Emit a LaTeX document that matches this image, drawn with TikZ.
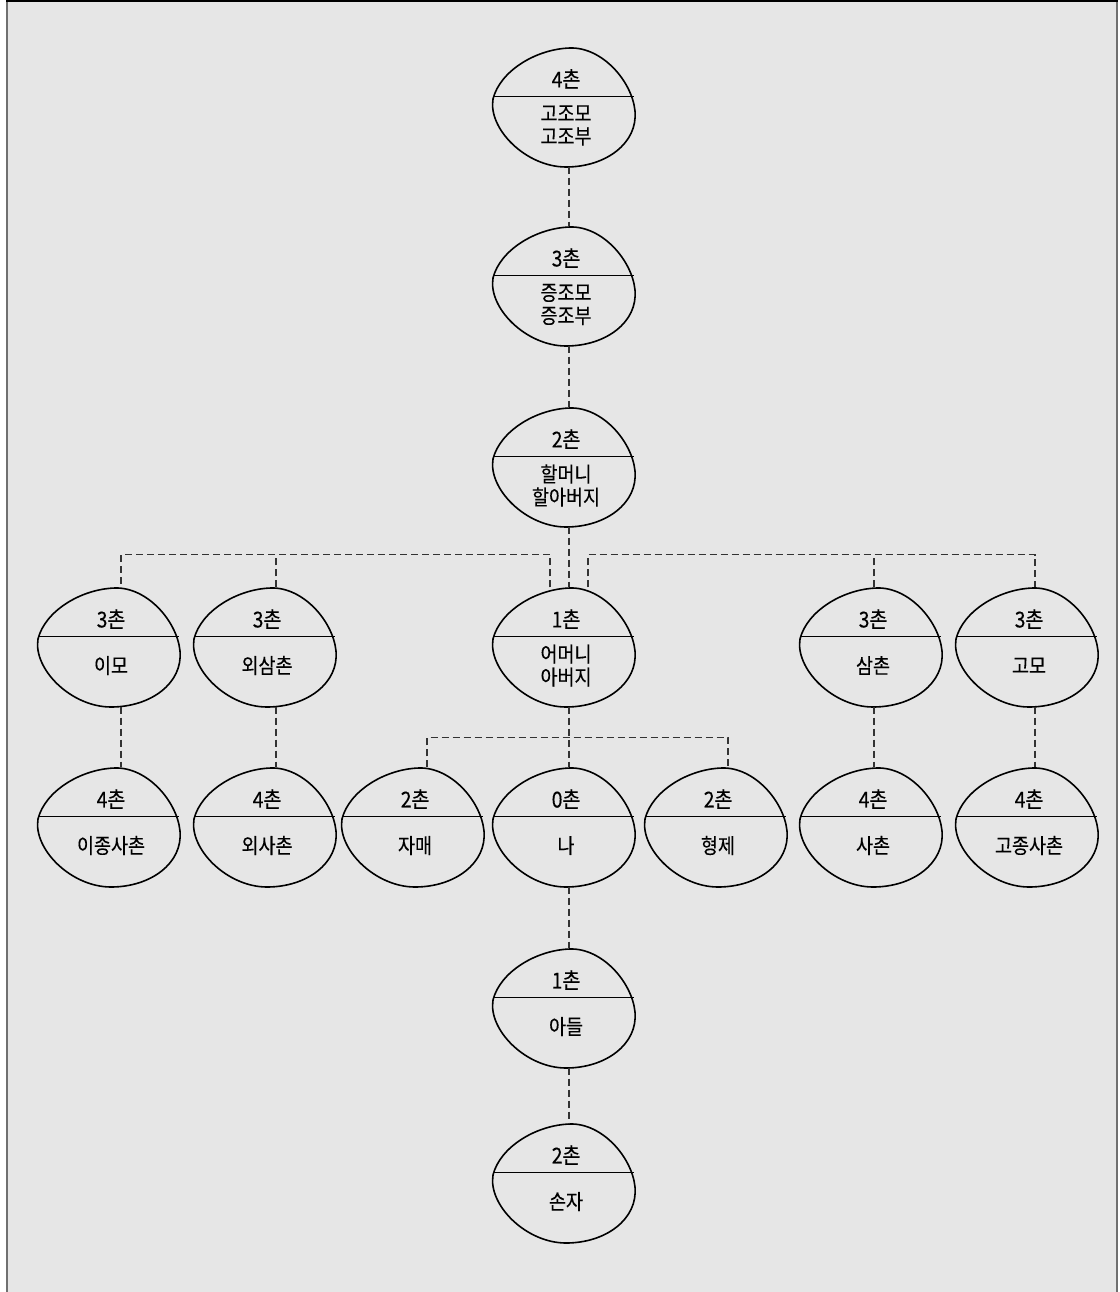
\documentclass[tikz,border=0pt]{standalone}
\usepackage{fontspec}
\newfontfamily\krfont[FakeStretch=0.88, FakeBold=0.2]{Noto Sans CJK KR}
\usetikzlibrary{positioning, calc}

\definecolor{paper}{HTML}{E6E6E6}
\definecolor{rim}{HTML}{707070}
\definecolor{linkgray}{HTML}{333333}

\tikzset{
  kin/.style={minimum width=142pt, minimum height=119pt, inner sep=0pt},
  deg/.style={font=\krfont\fontsize{22}{23}\selectfont, inner sep=0pt},
  who/.style={font=\krfont\fontsize{21}{23}\selectfont, align=center, inner sep=0pt},
  blobline/.style={line width=1.6pt, black, line join=round},
  divider/.style={line width=1.2pt, black},
  link/.style={line width=1.1pt, linkgray, dash pattern=on 7pt off 4pt}
}

\begin{document}
\begin{tikzpicture}[x=1pt, y=-1pt]

  % paper and frame
  \useasboundingbox (0,0) rectangle (1119,1292);
  \fill[white] (0,0) rectangle (1119,1292);
  \fill[paper] (7,1) rectangle (1117,1292);
  \draw[rim, line width=2pt] (7,1) -- (7,1292);
  \draw[rim, line width=2pt] (1117,1) -- (1117,1292);
  \draw[black, line width=2pt] (6,1) -- (1118,1);

  % centre column
  \node[kin] (gg) at (566,107) {};
  \node[deg] (gg-deg) at ([yshift=28pt]gg.center) {4촌};
  \node[who] (gg-who) at ([yshift=-18.5pt]gg.center) {고조모\\고조부};

  \node[kin] (ggp) at (566,286) {};
  \node[deg] (ggp-deg) at ([yshift=28pt]ggp.center) {3촌};
  \node[who] (ggp-who) at ([yshift=-18.5pt]ggp.center) {증조모\\증조부};

  \node[kin] (gp) at (566,467) {};
  \node[deg] (gp-deg) at ([yshift=28pt]gp.center) {2촌};
  \node[who] (gp-who) at ([yshift=-18.5pt]gp.center) {할머니\\할아버지};

  \node[kin] (mom) at (566,647) {};
  \node[deg] (mom-deg) at ([yshift=28pt]mom.center) {1촌};
  \node[who] (mom-who) at ([yshift=-18.5pt]mom.center) {어머니\\아버지};

  \node[kin] (me) at (566,827) {};
  \node[deg] (me-deg) at ([yshift=28pt]me.center) {0촌};
  \node[who] (me-who) at ([yshift=-18.5pt]me.center) {나};

  \node[kin] (son) at (566,1008) {};
  \node[deg] (son-deg) at ([yshift=28pt]son.center) {1촌};
  \node[who] (son-who) at ([yshift=-18.5pt]son.center) {아들};

  \node[kin] (gs) at (566,1183) {};
  \node[deg] (gs-deg) at ([yshift=28pt]gs.center) {2촌};
  \node[who] (gs-who) at ([yshift=-18.5pt]gs.center) {손자};

  % mother's side
  \node[kin] (imo) at (111,647) {};
  \node[deg] (imo-deg) at ([yshift=28pt]imo.center) {3촌};
  \node[who] (imo-who) at ([yshift=-18.5pt]imo.center) {이모};

  \node[kin] (icc) at (111,827) {};
  \node[deg] (icc-deg) at ([yshift=28pt]icc.center) {4촌};
  \node[who] (icc-who) at ([yshift=-18.5pt]icc.center) {이종사촌};

  \node[kin] (wsc) at (267,647) {};
  \node[deg] (wsc-deg) at ([yshift=28pt]wsc.center) {3촌};
  \node[who] (wsc-who) at ([yshift=-18.5pt]wsc.center) {외삼촌};

  \node[kin] (wsa) at (267,827) {};
  \node[deg] (wsa-deg) at ([yshift=28pt]wsa.center) {4촌};
  \node[who] (wsa-who) at ([yshift=-18.5pt]wsa.center) {외사촌};

  % siblings
  \node[kin] (jm) at (415,827) {};
  \node[deg] (jm-deg) at ([yshift=28pt]jm.center) {2촌};
  \node[who] (jm-who) at ([yshift=-18.5pt]jm.center) {자매};

  \node[kin] (hj) at (718,827) {};
  \node[deg] (hj-deg) at ([yshift=28pt]hj.center) {2촌};
  \node[who] (hj-who) at ([yshift=-18.5pt]hj.center) {형제};

  % father's side
  \node[kin] (sam) at (873,647) {};
  \node[deg] (sam-deg) at ([yshift=28pt]sam.center) {3촌};
  \node[who] (sam-who) at ([yshift=-18.5pt]sam.center) {삼촌};

  \node[kin] (sa) at (873,827) {};
  \node[deg] (sa-deg) at ([yshift=28pt]sa.center) {4촌};
  \node[who] (sa-who) at ([yshift=-18.5pt]sa.center) {사촌};

  \node[kin] (gomo) at (1029,647) {};
  \node[deg] (gomo-deg) at ([yshift=28pt]gomo.center) {3촌};
  \node[who] (gomo-who) at ([yshift=-18.5pt]gomo.center) {고모};

  \node[kin] (gjc) at (1029,827) {};
  \node[deg] (gjc-deg) at ([yshift=28pt]gjc.center) {4촌};
  \node[who] (gjc-who) at ([yshift=-18.5pt]gjc.center) {고종사촌};

  % hand-drawn outlines
  \foreach \n in {gg,ggp,gp,mom,me,son,gs,imo,icc,wsc,wsa,jm,hj,sam,sa,gomo,gjc} {
    \draw[blobline, shift={(\n.center)}] (4,-59)
      .. controls (-30,-58) and (-66,-36) .. (-73,-8)
      .. controls (-78,22) and (-40,60) .. (0,60)
      .. controls (40,60) and (72,36) .. (69,4)
      .. controls (66,-26) and (36,-60) .. (4,-59) -- cycle;
    \draw[divider, shift={(\n.center)}] (-72.5,-10.5) -- (68.3,-10.5);
  }

  % connectors
  \draw[link] ([xshift=3pt]gg.south) -- ([xshift=3pt]ggp.north);
  \draw[link] ([xshift=3pt]ggp.south) -- ([xshift=3pt]gp.north);
  \draw[link] ([xshift=3pt]gp.south) -- ([xshift=3pt]mom.north);
  \draw[link] ([xshift=-16pt]mom.north) -- ++(0,-32.5) -| ([xshift=10pt]imo.north);
  \draw[link] ([xshift=9pt]wsc.north) -- ++(0,-32.5);
  \draw[link] ([xshift=22pt]mom.north) -- ++(0,-32.5) -| ([xshift=6pt]gomo.north);
  \draw[link] ([xshift=1pt]sam.north) -- ++(0,-32.5);
  \draw[link] ([xshift=10pt]imo.south) -- ([xshift=10pt]icc.north);
  \draw[link] ([xshift=9pt]wsc.south) -- ([xshift=9pt]wsa.north);
  \draw[link] ([xshift=1pt]sam.south) -- ([xshift=1pt]sa.north);
  \draw[link] ([xshift=6pt]gomo.south) -- ([xshift=6pt]gjc.north);
  \draw[link] ([xshift=3pt]mom.south) -- ([xshift=3pt]me.north);
  \draw[link] ([xshift=12pt]jm.north) -- ++(0,-29.5) -| ([xshift=10pt]hj.north);
  \draw[link] ([xshift=3pt]me.south) -- ([xshift=3pt]son.north);
  \draw[link] ([xshift=3pt]son.south) -- ([xshift=3pt]gs.north);

\end{tikzpicture}
\end{document}
